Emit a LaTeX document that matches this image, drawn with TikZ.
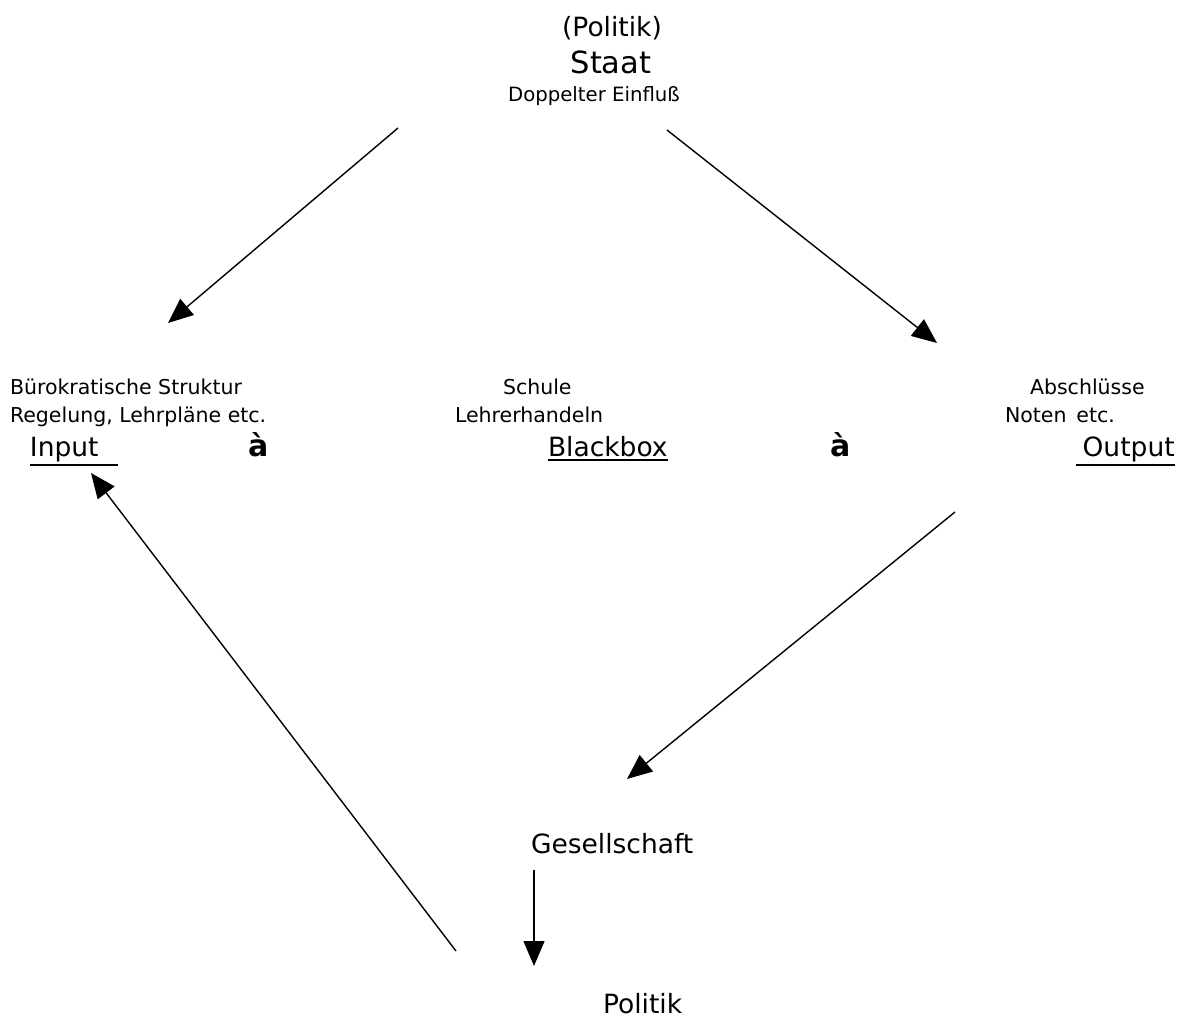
\documentclass[tikz,border=0pt]{standalone}
\usepackage{fontspec}
\setmainfont{DejaVu Sans}
\usetikzlibrary{arrows.meta}
\newcommand{\thickul}[1]{\leavevmode\vtop{\hbox{#1}\kern2.5pt\hrule height 2pt}}
\tikzset{
  txt/.style={inner sep=0pt, outer sep=0pt, anchor=base west},
  ctxt/.style={inner sep=0pt, outer sep=0pt, anchor=base},
  small/.style={font=\fontsize{20.5}{24}\selectfont},
  mid/.style={font=\fontsize{19.7}{24}\selectfont},
  big/.style={font=\fontsize{26.5}{30}\selectfont},
  huge/.style={font=\fontsize{30.5}{34}\selectfont},
  arr/.style={font=\fontsize{30}{34}\selectfont\bfseries},
  conn/.style={line width=1.4pt, -{Triangle[length=25pt,width=21pt]}}
}
\begin{document}
\begin{tikzpicture}[x=1pt,y=-1pt]
\useasboundingbox (0,0) rectangle (1184,1019);
% top
\node[ctxt,big] (politik1) at (612,37) {(Politik)};
\node[ctxt,huge] (staat) at (611,74) {Staat};
\node[ctxt,mid] (einfluss) at (594,102) {Doppelter Einfluß};
% left column
\node[txt,small] (buero) at (10,394) {Bürokratische Struktur};
\node[txt,small] (regel) at (10,422) {Regelung, Lehrpläne etc.};
\node[txt,big] (input) at (30,456) {\thickul{Input\hspace{0.75em}}};
\node[txt,arr] (a1) at (248,456) {à};
% middle column
\node[txt,small] (schule) at (503,394) {Schule};
\node[txt,small] (lehrer) at (455,422) {Lehrerhandeln};
\node[txt,big] (blackbox) at (548,456) {\thickul{Blackbox}};
\node[txt,arr] (a2) at (830,456) {à};
% right column
\node[txt,small] (abschl) at (1030,394) {Abschlüsse};
\node[txt,small] (noten) at (1005,422) {Noten\, etc.};
\node[txt,big] (output) at (1076,456) {\thickul{\hspace{0.25em}Output}};
% bottom
\node[txt,big] (gesell) at (531,853) {Gesellschaft};
\node[txt,big] (politik2) at (603,1013) {Politik};
% connector ends
\coordinate (s1) at (398,128);
\coordinate (e1) at (168,323);
\coordinate (s2) at (667,130);
\coordinate (e2) at (937,343);
\coordinate (s3) at (955,512);
\coordinate (e3) at (627,779);
\coordinate (s4) at (456,951);
\coordinate (e4) at (91,473);
\coordinate (s5) at (534,870);
\coordinate (e5) at (534,966);
\draw[conn] (s1) -- (e1);
\draw[conn] (s2) -- (e2);
\draw[conn] (s3) -- (e3);
\draw[conn] (s4) -- (e4);
\draw[conn] (s5) -- (e5);
\end{tikzpicture}
\end{document}
